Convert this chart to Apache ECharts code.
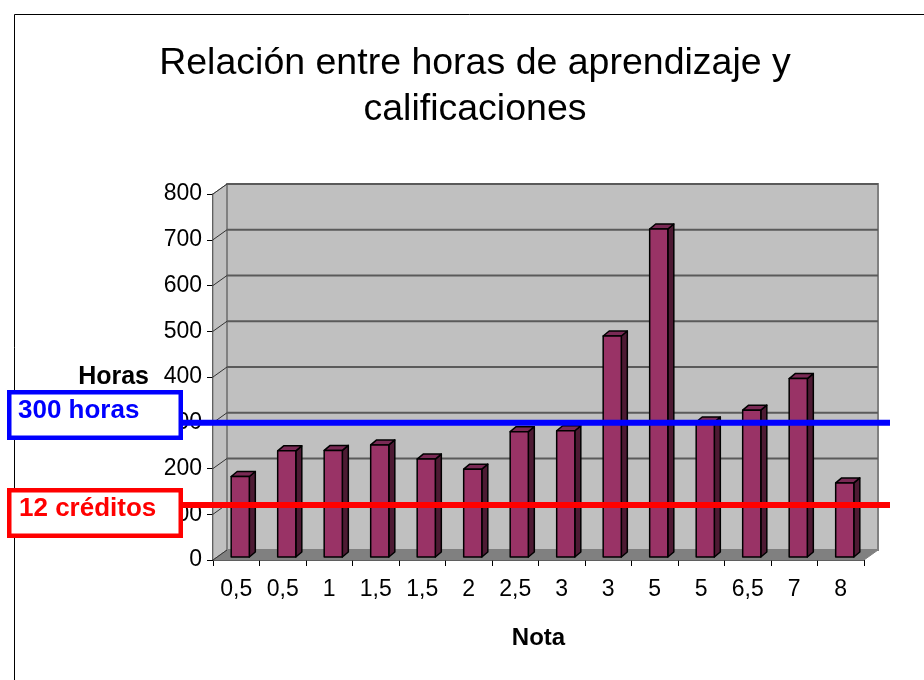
<!DOCTYPE html>
<html style="height: 100%">
<head>
<meta charset="utf-8">
<script src="https://cdn.jsdelivr.net/npm/echarts@6/dist/echarts.min.js"></script>
<style>
body { margin: 0; background: #fff; }
#container { width: 924px; height: 680px; }
</style>
</head>
<body>
<div id="container"></div>
<script type="text/javascript">
// data
var notas = ['0,5', '0,5', '1', '1,5', '1,5', '2', '2,5', '3', '3', '5', '5', '6,5', '7', '8'];
var horas = [176, 232, 233, 245, 214, 192, 274, 276, 483, 717, 295, 321, 390, 162];
var refHoras = 300;     // "300 horas"
var refCreditos = 120;  // "12 créditos" (12 x 10 h)
var yMax = 800, yStep = 100;

var FONT = '"Liberation Sans", Arial, sans-serif';
// 3D look: depth offset of the back wall
var DX = 14, DY = -10;

var dom = document.getElementById('container');
var myChart = echarts.init(dom, null, { renderer: 'canvas' });

function renderWalls(params, api) {
    var cs = params.coordSys;
    var x = cs.x, y = cs.y, w = cs.width, h = cs.height;
    var kids = [];
    // side wall
    kids.push({
        type: 'polygon',
        shape: { points: [[x, y], [x + DX, y + DY], [x + DX, y + h + DY], [x, y + h]] },
        style: { fill: '#c0c0c0', stroke: '#808080', lineWidth: 1 }
    });
    // back wall
    kids.push({
        type: 'rect',
        shape: { x: x + DX, y: y + DY, width: w, height: h },
        style: { fill: '#c0c0c0', stroke: '#808080', lineWidth: 2 }
    });
    // floor
    kids.push({
        type: 'polygon',
        shape: { points: [[x, y + h], [x + w, y + h], [x + w + DX, y + h + DY], [x + DX, y + h + DY]] },
        style: { fill: '#808080', stroke: '#808080', lineWidth: 1 }
    });
    for (var v = 0; v <= yMax; v += yStep) {
        var yy = api.coord([0, v])[1];
        if (v > 0) {
            kids.push({
                type: 'line',
                shape: { x1: x + DX, y1: yy + DY, x2: x + w + DX, y2: yy + DY },
                style: { stroke: '#5a5a5a', lineWidth: 2 }
            });
        }
        kids.push({
            type: 'line',
            shape: { x1: x, y1: yy, x2: x + DX, y2: yy + DY },
            style: { stroke: '#333', lineWidth: 1 }
        });
    }
    return { type: 'group', children: kids };
}

function renderBar(params, api) {
    var i = api.value(0);
    var base = api.coord([i, 0]);
    var top = api.coord([i, api.value(1)]);
    var band = api.size([1, 0])[0];
    var bw = band * 0.39;
    var ox = 4, oy = -3, dx = 6, dy = -5;
    var xl = base[0] + ox - bw / 2, xr = xl + bw;
    var yt = top[1] + oy, yb = base[1] + oy;
    var st = { stroke: '#000', lineWidth: 1.5, lineJoin: 'round' };
    return {
        type: 'group',
        children: [
            { type: 'polygon', shape: { points: [[xr, yt], [xr + dx, yt + dy], [xr + dx, yb + dy], [xr, yb]] },
              style: echarts.util.extend({ fill: '#4d1a33' }, st) },
            { type: 'polygon', shape: { points: [[xl, yt], [xl + dx, yt + dy], [xr + dx, yt + dy], [xr, yt]] },
              style: echarts.util.extend({ fill: '#7a2a55' }, st) },
            { type: 'rect', shape: { x: xl, y: yt, width: bw, height: yb - yt },
              style: echarts.util.extend({ fill: '#993366' }, st) }
        ]
    };
}

function renderRefLines(params, api) {
    var cs = params.coordSys;
    var x1 = cs.x - 32, x2 = cs.x + cs.width + 26;
    var yb = api.coord([0, refHoras])[1];
    var yr = api.coord([0, refCreditos])[1];
    return {
        type: 'group',
        children: [
            { type: 'line', shape: { x1: x1, y1: yb, x2: x2, y2: yb }, style: { stroke: '#0000ff', lineWidth: 6 } },
            { type: 'line', shape: { x1: x1, y1: yr, x2: x2, y2: yr }, style: { stroke: '#ff0000', lineWidth: 6 } }
        ]
    };
}

var option = {
    animation: false,
    backgroundColor: '#fff',
    textStyle: { fontFamily: FONT },
    title: {
        text: 'Relación entre horas de aprendizaje y\ncalificaciones',
        left: 470,
        textAlign: 'center',
        top: 36,
        textStyle: { fontFamily: FONT, fontSize: 37.5, fontWeight: 'normal', color: '#000', lineHeight: 46 }
    },
    grid: { left: 213, right: 60, top: 194, bottom: 120, containLabel: false },
    xAxis: {
        type: 'category',
        data: notas,
        name: 'Nota',
        nameLocation: 'middle',
        nameGap: 66,
        nameTextStyle: { fontFamily: FONT, fontSize: 24, fontWeight: 'bold', color: '#000' },
        axisLine: { lineStyle: { color: '#000', width: 1.5 } },
        axisTick: { show: true, length: 6, lineStyle: { color: '#000' } },
        axisLabel: { fontFamily: FONT, fontSize: 23, color: '#000', margin: 18 },
        splitLine: { show: false }
    },
    yAxis: {
        type: 'value',
        min: 0,
        max: yMax,
        interval: yStep,
        name: 'Horas',
        nameLocation: 'middle',
        nameRotate: 0,
        nameGap: 64,
        nameTextStyle: { fontFamily: FONT, fontSize: 25, fontWeight: 'bold', color: '#000', align: 'right', padding: [4, 0, 0, 0] },
        axisLine: { show: true, lineStyle: { color: '#000', width: 1.5 } },
        axisTick: { show: true, length: 6, lineStyle: { color: '#000' } },
        axisLabel: { fontFamily: FONT, fontSize: 23, color: '#000', margin: 11 },
        splitLine: { show: false }
    },
    series: [
        { type: 'custom', name: 'paredes', renderItem: renderWalls, data: [[0, 0]], z: 1, silent: true },
        { type: 'custom', name: 'Horas', renderItem: renderBar,
          data: horas.map(function (v, i) { return [i, v]; }),
          encode: { x: 0, y: 1 }, z: 3 },
        { type: 'custom', name: 'referencias', renderItem: renderRefLines, data: [[0, 0]], z: 5, silent: true }
    ],
    graphic: [
        { type: 'rect', z: 100, shape: { x: 14.5, y: 14.5, width: 1000, height: 1000 },
          style: { fill: null, stroke: '#000', lineWidth: 1 } },
        { type: 'rect', z: 100, shape: { x: 9.25, y: 392.25, width: 171.5, height: 45.5 },
          style: { fill: '#fff', stroke: '#0000ff', lineWidth: 4.5 } },
        { type: 'text', z: 101, left: 18, top: 398,
          style: { text: '300 horas', fill: '#0000ff', font: 'bold 26px ' + FONT } },
        { type: 'text', z: 101, left: 19, top: 496,
          style: { text: '12 créditos', fill: '#ff0000', font: 'bold 26px ' + FONT } },
        { type: 'rect', z: 100, shape: { x: 9.25, y: 490.25, width: 171.5, height: 45.5 },
          style: { fill: '#fff', stroke: '#ff0000', lineWidth: 4.5 } }
    ]
};

myChart.setOption(option);
</script>
</body>
</html>
